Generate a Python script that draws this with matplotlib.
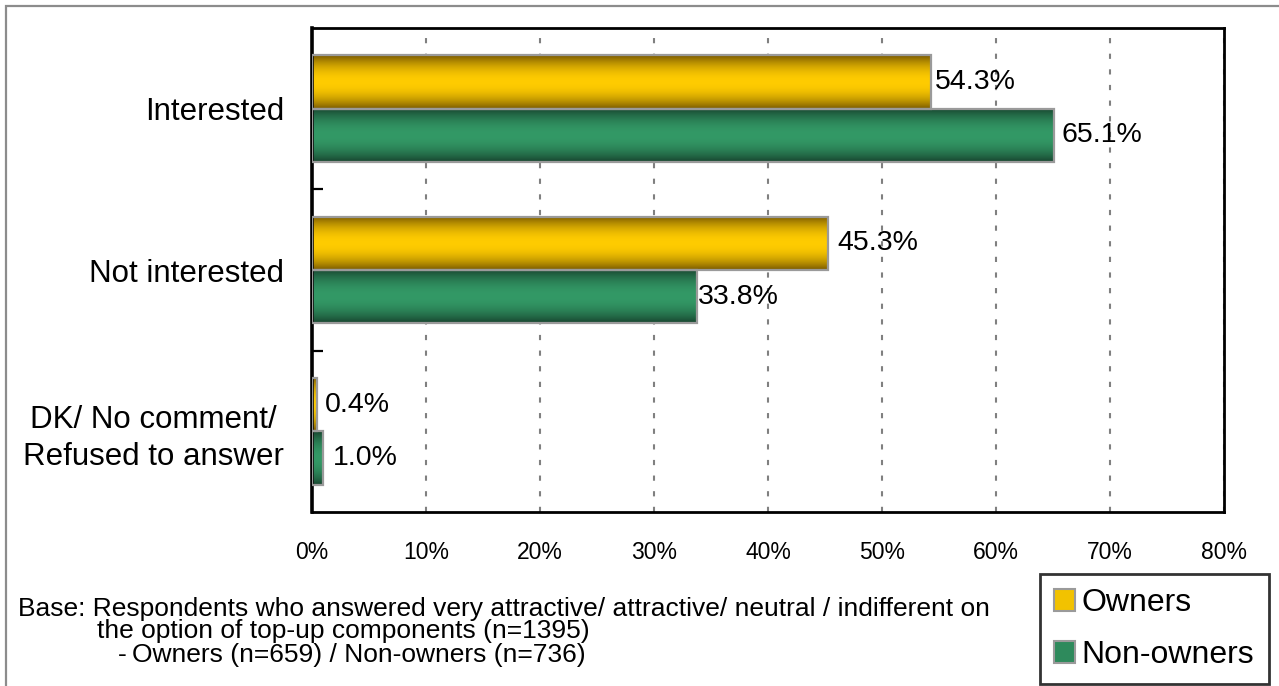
import numpy as np
import matplotlib
matplotlib.use("Agg")
import matplotlib.pyplot as plt
from matplotlib.patches import Rectangle, Patch
from matplotlib.colors import to_rgb

plt.rcParams["font.family"] = ["Liberation Sans", "DejaVu Sans"]

categories = ["Interested", "Not interested", "DK/ No comment/\nRefused to answer"]
owners = [54.3, 45.3, 0.4]
non_owners = [65.1, 33.8, 1.0]
series_names = ["Owners", "Non-owners"]
x_ticks = [0, 10, 20, 30, 40, 50, 60, 70, 80]
x_tick_labels = [f"{v}%" for v in x_ticks]

footnote_lines = [
    "Base: Respondents who answered very attractive/ attractive/ neutral / indifferent on",
    "the option of top-up components (n=1395)",
    "Owners (n=659) / Non-owners (n=736)",
]

W, H = 1279, 686
fig = plt.figure(figsize=(W / 100, H / 100), dpi=100)
ax = fig.add_axes([312 / W, 1 - 512 / H, (1224 - 312) / W, (512 - 28) / H])

# outer frame of the figure (top and left edges visible)
fig.patches.append(Rectangle((6 / W, -0.2), 1.2, 1.2 - 6 / H, transform=fig.transFigure,
                             fill=False, ec="#8c8c8c", lw=1.6, zorder=0))

GOLD = ("#FFCC00", "#7A5A00")
GREEN = ("#339966", "#17452F")


def gradient_bar(ax, bar, light, dark):
    x0, y0 = bar.get_xy()
    w, h = bar.get_width(), bar.get_height()
    t = np.linspace(-1, 1, 80)
    prof = np.clip(1 - np.abs(t) ** 2.0, 0, 1)
    lo, hi = np.array(to_rgb(dark)), np.array(to_rgb(light))
    img = lo[None, :] + (hi - lo)[None, :] * prof[:, None]
    img = img[:, None, :]
    ax.imshow(img, extent=(x0, x0 + w, y0 + h, y0), aspect="auto",
              interpolation="bilinear", zorder=2)


y = np.arange(len(categories))
h = 0.33
bars_o = ax.barh(y - h / 2, owners, height=h, facecolor="none",
                 edgecolor="#9a9a9a", lw=1.6, zorder=3)
bars_n = ax.barh(y + h / 2, non_owners, height=h, facecolor="none",
                 edgecolor="#9a9a9a", lw=1.6, zorder=3)
for b in bars_o:
    gradient_bar(ax, b, *GOLD)
for b in bars_n:
    gradient_bar(ax, b, *GREEN)

# value labels
px = 80 / (1224 - 312)
label_gap = {("o", 0): 4, ("o", 1): 9, ("o", 2): 8,
             ("n", 0): 7, ("n", 1): 1, ("n", 2): 9}
for i, v in enumerate(owners):
    ax.text(v + label_gap[("o", i)] * px, y[i] - h / 2, f"{v:.1f}%",
            va="center", ha="left", fontsize=20.5, zorder=5)
for i, v in enumerate(non_owners):
    ax.text(v + label_gap[("n", i)] * px, y[i] + h / 2, f"{v:.1f}%",
            va="center", ha="left", fontsize=20.5, zorder=5)

ax.set_xlim(0, 80)
ax.set_ylim(2.5, -0.5)
ax.set_xticks(x_ticks)
ax.set_xticklabels(x_tick_labels, fontsize=16.5)
ax.tick_params(axis="x", length=0, pad=21)

ax.set_yticks(y)
ax.set_yticklabels(categories, fontsize=22.5, linespacing=1.3)
ax.set_yticks([0.5, 1.5], minor=True)
ax.tick_params(axis="y", which="major", length=0, pad=20)
ax.tick_params(axis="y", which="minor", direction="in", length=8, width=1.6,
               color="black")
lbl = ax.get_yticklabels()[2]
lbl.set_multialignment("center")

ax.xaxis.grid(True, color="#808080", lw=1.5, ls=(0, (2.5, 5)))
ax.set_axisbelow(True)
for s in ax.spines.values():
    s.set_linewidth(2)
    s.set_color("black")
ax.spines["left"].set_linewidth(2.6)

# footnote
fs = 19
fig.text(18 / W, 1 - 609 / H, footnote_lines[0], fontsize=fs, va="center", ha="left")
fig.text(97 / W, 1 - 631 / H, footnote_lines[1], fontsize=fs, va="center", ha="left")
fig.text(118 / W, 1 - 655 / H, "-", fontsize=fs, va="center", ha="left")
fig.text(132 / W, 1 - 655 / H, footnote_lines[2], fontsize=fs, va="center", ha="left")

handles = [Patch(facecolor="#F2C200", edgecolor="#9a9a9a", lw=1.5),
           Patch(facecolor="#2E8A5C", edgecolor="#9a9a9a", lw=1.5)]
leg = fig.legend(handles, series_names, loc="upper left",
                 bbox_to_anchor=(1040 / W, 1 - 574 / H), borderaxespad=0,
                 fontsize=23, frameon=True, fancybox=False, edgecolor="black",
                 handlelength=0.66, handleheight=0.65, handletextpad=0.2,
                 labelspacing=0.68, borderpad=0.45)
leg.get_frame().set_linewidth(2)

fig.savefig("out.png", dpi=100)
